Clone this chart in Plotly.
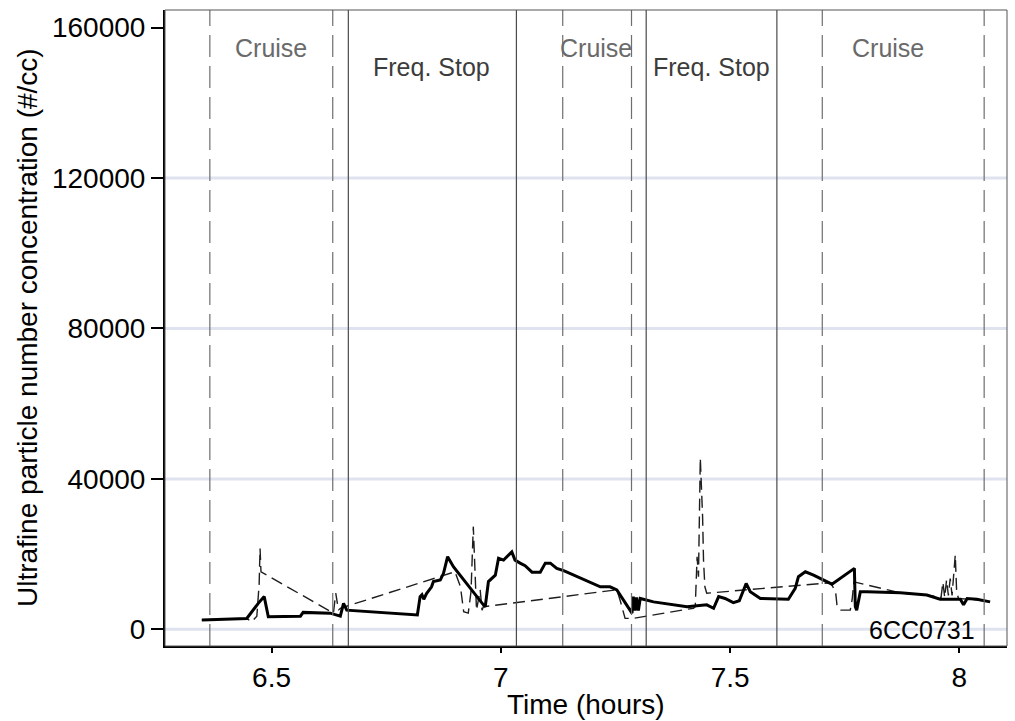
import plotly.graph_objects as go

# ---------------- data ----------------
solid_t = [6.348, 6.446, 6.471, 6.484, 6.493, 6.563, 6.569, 6.628, 6.650, 6.657, 6.664,
           6.818, 6.824, 6.828, 6.832, 6.838, 6.849, 6.853, 6.868, 6.875, 6.884, 6.897,
           6.962, 6.966, 6.973, 6.980, 6.988, 6.995, 7.006, 7.024, 7.031, 7.042, 7.053,
           7.068, 7.086, 7.097, 7.108, 7.122, 7.137, 7.217, 7.238, 7.253, 7.286, 7.289,
           7.293, 7.296, 7.300, 7.304, 7.333, 7.406, 7.449, 7.464, 7.475, 7.489, 7.507,
           7.520, 7.526, 7.535, 7.544, 7.566, 7.627, 7.642, 7.649, 7.664, 7.682, 7.722,
           7.771, 7.773, 7.776, 7.784, 7.798, 7.871, 7.929, 7.958, 8.002, 8.009, 8.017,
           8.038, 8.067]
solid_v = [2500, 2900, 6900, 8700, 3350, 3500, 4500, 4300, 3500, 6900, 5100,
           3800, 8700, 9200, 8000, 9500, 11300, 12700, 13100, 14900, 19300, 16600,
           6500, 6000, 12700, 13600, 14400, 18900, 18400, 20600, 18400, 17600, 16900,
           15200, 15200, 17600, 17600, 16200, 15600, 11300, 11300, 10500, 4300, 8700,
           5000, 8500, 5000, 8200, 7300, 6000, 6500, 5600, 8700, 8200, 7100,
           7600, 9600, 12200, 10000, 8200, 8000, 10900, 14000, 15300, 14400, 12000,
           16200, 6000, 5100, 10000, 10000, 9700, 9100, 8000, 8000, 6500, 8200,
           8000, 7300]

dash_t = [6.348, 6.446, 6.457, 6.468, 6.473, 6.475, 6.477, 6.635, 6.640, 6.646, 6.650,
          6.900, 6.912, 6.919, 6.929, 6.935, 6.940, 6.944, 6.947, 6.955, 6.959, 6.962,
          7.253, 7.260, 7.271, 7.282, 7.289, 7.420, 7.424, 7.428, 7.431, 7.435, 7.440,
          7.442, 7.445, 7.449, 7.719, 7.730, 7.733, 7.740, 7.762, 7.766, 7.770, 7.871,
          7.929, 7.960, 7.964, 7.968, 7.972, 7.976, 7.980, 7.984, 7.991, 7.994, 7.998,
          8.020, 8.040, 8.067]
dash_v = [2500, 2900, 2000, 3500, 12000, 21500, 15300, 4300, 9600, 5100, 5600,
          15300, 11300, 4700, 4300, 10000, 27300, 15000, 5100, 10500, 5100, 6000,
          10500, 7800, 2900, 2900, 2900, 5600, 6000, 19300, 14000, 45500, 30000,
          18400, 11300, 9600, 12400, 10000, 6500, 5100, 5100, 7800, 12600, 9700,
          9100, 8500, 12500, 8500, 13100, 9000, 13500, 9000, 19800, 10000, 8200,
          8000, 7800, 7300]

dashed_vlines = [6.3655, 6.6335, 7.135, 7.285, 7.701, 8.054]
solid_vlines = [6.6675, 7.034, 7.317, 7.602]

phase_labels = ["Cruise", "Freq. Stop", "Cruise", "Freq. Stop", "Cruise"]
phase_x = [6.498, 6.849, 7.207, 7.459, 7.845]
phase_y = [154500, 149600, 154500, 149600, 154500]
phase_col = ["#6a6a6a", "#3c3c3c", "#6a6a6a", "#3c3c3c", "#6a6a6a"]

grid_vals = [0, 40000, 80000, 120000]
y_ticks = [0, 40000, 80000, 120000, 160000]
x_ticks = [6.5, 7, 7.5, 8]
x_ticktext = ["6.5", "7", "7.5", "8"]
vehicle_id = "6CC0731"

X_RANGE = [6.2677, 8.1038]
Y_RANGE = [-4440, 164700]

FONT = "Liberation Sans, Arial, Helvetica, sans-serif"

fig = go.Figure()

fig.add_trace(go.Scatter(x=dash_t, y=dash_v, mode="lines",
                         line=dict(color="#1e1e1e", width=1.4, dash="12px,6px"),
                         showlegend=False, hoverinfo="skip"))
fig.add_trace(go.Scatter(x=solid_t, y=solid_v, mode="lines",
                         line=dict(color="black", width=3),
                         showlegend=False, hoverinfo="skip"))

shapes = []
for g in grid_vals:
    shapes.append(dict(type="line", xref="paper", x0=0, x1=1, yref="y", y0=g, y1=g,
                       line=dict(color="#dfe3ef", width=3), layer="below"))
for v in dashed_vlines:
    shapes.append(dict(type="line", xref="x", x0=v, x1=v, yref="paper", y0=0, y1=1,
                       line=dict(color="#6e6e6e", width=1.2, dash="22px,9px"), layer="above"))
for v in solid_vlines:
    shapes.append(dict(type="line", xref="x", x0=v, x1=v, yref="paper", y0=0, y1=1,
                       line=dict(color="#4a4a4a", width=1.2), layer="above"))
shapes.append(dict(type="rect", xref="paper", yref="paper", x0=0, x1=1, y0=0, y1=1,
                   line=dict(color="#555555", width=1), layer="above"))

annotations = []
for lab, xx, yy, cc in zip(phase_labels, phase_x, phase_y, phase_col):
    annotations.append(dict(x=xx, y=yy, xref="x", yref="y", text=lab, showarrow=False,
                            xanchor="center", yanchor="middle",
                            font=dict(family=FONT, size=25, color=cc)))
annotations.append(dict(x=7.918, y=-300, xref="x", yref="y", text=vehicle_id, showarrow=False,
                        xanchor="center", yanchor="middle",
                        font=dict(family=FONT, size=25, color="black")))
# axis titles
annotations.append(dict(x=(27 - 165) / 842, y=0.5, xref="paper", yref="paper",
                        text="Ultrafine particle number concentration (#/cc)", showarrow=False,
                        textangle=-90, xanchor="center", yanchor="middle",
                        font=dict(family=FONT, size=28, color="black")))
annotations.append(dict(x=0.5, y=-(704 - 646) / 636, xref="paper", yref="paper",
                        text="Time (hours)", showarrow=False,
                        xanchor="center", yanchor="middle",
                        font=dict(family=FONT, size=28, color="black")))

fig.update_layout(
    width=1015, height=721,
    margin=dict(l=165, r=8, t=10, b=75),
    paper_bgcolor="white", plot_bgcolor="white",
    font=dict(family=FONT, size=28, color="black"),
    shapes=shapes, annotations=annotations,
    xaxis=dict(range=X_RANGE, tickvals=x_ticks, ticktext=x_ticktext,
               showgrid=False, zeroline=False, showline=True, linecolor="black", linewidth=2,
               ticks="outside", ticklen=5, tickwidth=1.5, tickcolor="black",
               tickfont=dict(size=28, family=FONT), automargin=False),
    yaxis=dict(range=Y_RANGE, tickvals=y_ticks, tickformat="d",
               showgrid=False, zeroline=False, showline=True, linecolor="black", linewidth=2,
               ticks="outside", ticklen=12, tickwidth=1.5, tickcolor="black",
               tickfont=dict(size=28, family=FONT), automargin=False),
)

fig.write_html("out.html")
